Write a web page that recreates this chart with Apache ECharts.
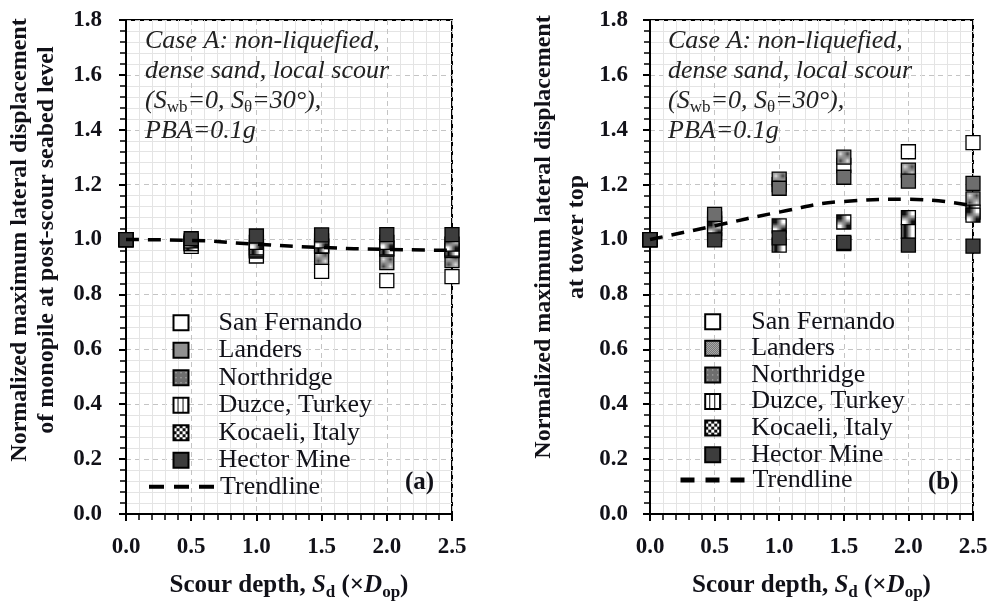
<!DOCTYPE html>
<html>
<head>
<meta charset="utf-8">
<script src="https://cdn.jsdelivr.net/npm/echarts@6/dist/echarts.min.js"></script>
<style>
html, body { margin: 0; padding: 0; background: #fff; }
#main { width: 992px; height: 606px; }
</style>
</head>
<body>
<div id="main"></div>
<script>
// scour depth (x D_op)
var depths = [0.0, 0.5, 1.0, 1.5, 2.0, 2.5];
var xTicks = ['0.0', '0.5', '1.0', '1.5', '2.0', '2.5'];
var yTicks = ['0.0', '0.2', '0.4', '0.6', '0.8', '1.0', '1.2', '1.4', '1.6', '1.8'];
var records = ['San Fernando', 'Landers', 'Northridge', 'Duzce, Turkey', 'Kocaeli, Italy', 'Hector Mine'];

// (a) monopile at post-scour seabed level
var aSanFernando = [1.0, 0.975, 0.94, 0.884, 0.85, 0.865];
var aLanders     = [1.0, 0.985, 0.958, 0.935, 0.916, 0.923];
var aNorthridge  = [1.0, 0.99, 0.962, 0.975, 0.965, 0.96];
var aDuzce       = [1.0, 0.985, 0.97, 0.977, 0.97, 0.965];
var aKocaeli     = [1.0, 0.995, 0.99, 0.995, 0.99, 0.983];
var aHector      = [1.0, 1.003, 1.013, 1.017, 1.018, 1.018];
var aTrend       = [1.0, 0.997, 0.983, 0.971, 0.964, 0.961];

// (b) tower top
var bSanFernando = [1.0, 1.06, 1.2, 1.27, 1.32, 1.353];
var bLanders     = [1.0, 1.075, 1.22, 1.30, 1.253, 1.148];
var bNorthridge  = [1.0, 1.092, 1.187, 1.227, 1.213, 1.205];
var bDuzce       = [1.0, 1.02, 0.98, 0.985, 1.03, 1.1];
var bKocaeli     = [1.0, 1.04, 1.05, 1.064, 1.08, 1.089];
var bHector      = [1.0, 0.999, 1.006, 0.99, 0.98, 0.976];
var bTrend       = [1.0, 1.05, 1.10, 1.139, 1.147, 1.123];

var FONT = 'Liberation Serif';
var INK = '#111118';

// 小图案填充
function makePattern(size, draw) {
    var c = document.createElement('canvas');
    c.width = size;
    c.height = size;
    var ctx = c.getContext('2d');
    draw(ctx);
    return { image: c, repeat: 'repeat' };
}
var fills = [
    '#ffffff',
    makePattern(2, function (ctx) {
        ctx.fillStyle = '#444'; ctx.fillRect(0, 0, 2, 2);
        ctx.fillStyle = '#ddd'; ctx.fillRect(0, 0, 1, 1); ctx.fillRect(1, 1, 1, 1);
    }),
    makePattern(5, function (ctx) {
        ctx.fillStyle = '#6e6e6e'; ctx.fillRect(0, 0, 5, 5);
        ctx.fillStyle = '#cfcfcf'; ctx.fillRect(2, 2, 1, 1);
    }),
    makePattern(5, function (ctx) {
        ctx.fillStyle = '#fff'; ctx.fillRect(0, 0, 5, 5);
        ctx.fillStyle = '#000'; ctx.fillRect(4, 0, 1, 5);
    }),
    makePattern(6, function (ctx) {
        ctx.fillStyle = '#fff'; ctx.fillRect(0, 0, 6, 6);
        ctx.fillStyle = '#111'; ctx.fillRect(0, 0, 3, 3); ctx.fillRect(3, 3, 3, 3);
    }),
    '#3d3d3d'
];

function pairs(ys) {
    return depths.map(function (x, i) { return [x, ys[i]]; });
}

// 坐标轴
function mainX(gi) {
    return {
        type: 'value', gridIndex: gi, min: 0, max: 2.5, interval: 0.5,
        axisLine: { show: true, lineStyle: { color: '#000', width: 2 } },
        axisTick: { show: true, inside: false, length: 7, lineStyle: { color: '#000', width: 2 } },
        axisLabel: {
            margin: 22, fontFamily: FONT, fontWeight: 'bold', fontSize: 23, color: INK,
            formatter: function (v) { return xTicks[Math.round(v / 0.5)]; }
        },
        splitLine: { show: true, lineStyle: { color: '#c4c4c4', type: [5, 4], width: 1 } },
        name: '{b|Scour depth, }{bi|S}{bs|d}{b| (×}{bi|D}{bs|op}{b|)}',
        nameLocation: 'middle', nameGap: 57,
        nameTextStyle: {
            rich: {
                b: { fontFamily: FONT, fontWeight: 'bold', fontSize: 25, lineHeight: 30, color: INK },
                bi: { fontFamily: FONT, fontWeight: 'bold', fontStyle: 'italic', fontSize: 25, lineHeight: 30, color: INK },
                bs: { fontFamily: FONT, fontWeight: 'bold', fontSize: 17, lineHeight: 18, verticalAlign: 'bottom', color: INK }
            }
        }
    };
}
function innerX(gi) {
    return {
        type: 'value', gridIndex: gi, min: 0, max: 2.5, interval: 0.5,
        axisLine: { show: false },
        axisTick: { show: true, inside: true, length: 6, lineStyle: { color: '#000', width: 2 } },
        minorTick: { show: true, splitNumber: 5, length: 6, lineStyle: { color: '#000', width: 1.5 } },
        minorSplitLine: { show: true, lineStyle: { color: '#e4e4e4', width: 1 } },
        axisLabel: { show: false },
        splitLine: { show: false }
    };
}
function mainY(gi, name, gap, lh, shift, margin) {
    return {
        type: 'value', gridIndex: gi, min: 0, max: 1.8, interval: 0.2,
        axisLine: { show: true, lineStyle: { color: '#000', width: 2 } },
        axisTick: { show: true, inside: false, length: 7, lineStyle: { color: '#000', width: 2 } },
        axisLabel: {
            margin: margin, fontFamily: FONT, fontWeight: 'bold', fontSize: 23, color: INK,
            formatter: function (v) { return yTicks[Math.round(v / 0.2)]; }
        },
        splitLine: { show: true, lineStyle: { color: '#c4c4c4', type: [5, 4], width: 1 } },
        name: name, nameLocation: 'middle', nameGap: gap, nameRotate: 90,
        nameTextStyle: {
            fontFamily: FONT, fontWeight: 'bold', fontSize: 24, lineHeight: lh, color: INK,
            padding: [0, 0, 0, shift]
        }
    };
}
function innerY(gi) {
    return {
        type: 'value', gridIndex: gi, min: 0, max: 1.8, interval: 0.2,
        axisLine: { show: false },
        axisTick: { show: true, inside: true, length: 6, lineStyle: { color: '#000', width: 2 } },
        minorTick: { show: true, splitNumber: 5, length: 6, lineStyle: { color: '#000', width: 1.5 } },
        minorSplitLine: { show: true, lineStyle: { color: '#e4e4e4', width: 1 } },
        axisLabel: { show: false },
        splitLine: { show: false }
    };
}

var seriesA = [aSanFernando, aLanders, aNorthridge, aDuzce, aKocaeli, aHector];
var seriesB = [bSanFernando, bLanders, bNorthridge, bDuzce, bKocaeli, bHector];

var series = [];
[seriesA, seriesB].forEach(function (group, g) {
    group.forEach(function (ys, k) {
        series.push({
            name: records[k], type: 'scatter', xAxisIndex: g * 2, yAxisIndex: g * 2,
            symbol: 'rect', symbolSize: 14, clip: false, z: 3,
            itemStyle: { color: fills[k], borderColor: '#000', borderWidth: 1.3, opacity: 1 },
            data: pairs(ys)
        });
    });
    series.push({
        name: 'Trendline', type: 'line', xAxisIndex: g * 2, yAxisIndex: g * 2,
        smooth: 0.5, symbol: 'none', z: 5,
        itemStyle: { color: '#000' },
        lineStyle: { color: '#000', width: 3.5, type: [13, 9] },
        data: pairs(g === 0 ? aTrend : bTrend)
    });
});

var legendText = { fontFamily: FONT, fontSize: 26, color: INK, lineHeight: 24 };

function annotation(x) {
    return {
        type: 'text', left: x, top: 28, z: 10,
        style: {
            text: '{i|Case A: non-liquefied,}\n{i|dense sand, local scour}\n{i|(S}{s|wb}{i|=0, S}{s|θ}{i|=30°),}\n{i|PBA=0.1g}',
            rich: {
                i: { fontFamily: FONT, fontStyle: 'italic', fontSize: 26, lineHeight: 30, fill: '#222' },
                s: { fontFamily: FONT, fontSize: 17, lineHeight: 18, verticalAlign: 'bottom', fill: '#222' }
            }
        }
    };
}

var myChart = echarts.init(document.getElementById('main'), null, { renderer: 'canvas' });
var option = {
    backgroundColor: '#fff',
    animation: false,
    grid: [
        { left: 126, top: 20, width: 326, height: 496, show: true, borderColor: '#000', borderWidth: 2, backgroundColor: 'transparent' },
        { left: 650, top: 20, width: 323, height: 496, show: true, borderColor: '#000', borderWidth: 2, backgroundColor: 'transparent' }
    ],
    xAxis: [mainX(0), innerX(0), mainX(1), innerX(1)],
    yAxis: [
        mainY(0, 'Normalized maximum lateral displacement\nof monopile at post-scour seabed level', 66, 27, 54, 24),
        innerY(0),
        mainY(1, 'Normalized maximum lateral displacement\nat tower top', 57, 33, 60, 22),
        innerY(1)
    ],
    legend: [
        { data: records, orient: 'vertical', left: 167.5, top: 304.7, itemWidth: 15, itemHeight: 15, itemGap: 1.5,
          icon: 'rect', textStyle: Object.assign({ padding: [0, 0, 0, 25] }, legendText), selectedMode: false },
        { data: ['Trendline'], orient: 'vertical', left: 142, top: 468.7, itemWidth: 66, itemHeight: 6,
          itemStyle: { opacity: 0 }, lineStyle: { type: [15, 10], width: 4 },
          textStyle: legendText, selectedMode: false },
        { data: records, orient: 'vertical', left: 699.2, top: 303.7, itemWidth: 15, itemHeight: 15, itemGap: 0.6,
          icon: 'rect', textStyle: Object.assign({ padding: [0, 0, 0, 26] }, legendText), selectedMode: false },
        { data: ['Trendline'], orient: 'vertical', left: 673, top: 462, itemWidth: 65, itemHeight: 6,
          itemStyle: { opacity: 0 }, lineStyle: { type: [14, 11], width: 5 },
          textStyle: Object.assign({ padding: [0, 0, 0, 2] }, legendText), selectedMode: false }
    ],
    graphic: [
        annotation(145),
        annotation(668),
        { type: 'text', left: 405, top: 470, z: 10,
          style: { text: '(a)', fontFamily: FONT, fontWeight: 'bold', fontSize: 25, fill: INK } },
        { type: 'text', left: 928, top: 470, z: 10,
          style: { text: '(b)', fontFamily: FONT, fontWeight: 'bold', fontSize: 25, fill: INK } }
    ],
    series: series
};
myChart.setOption(option);
</script>
</body>
</html>
